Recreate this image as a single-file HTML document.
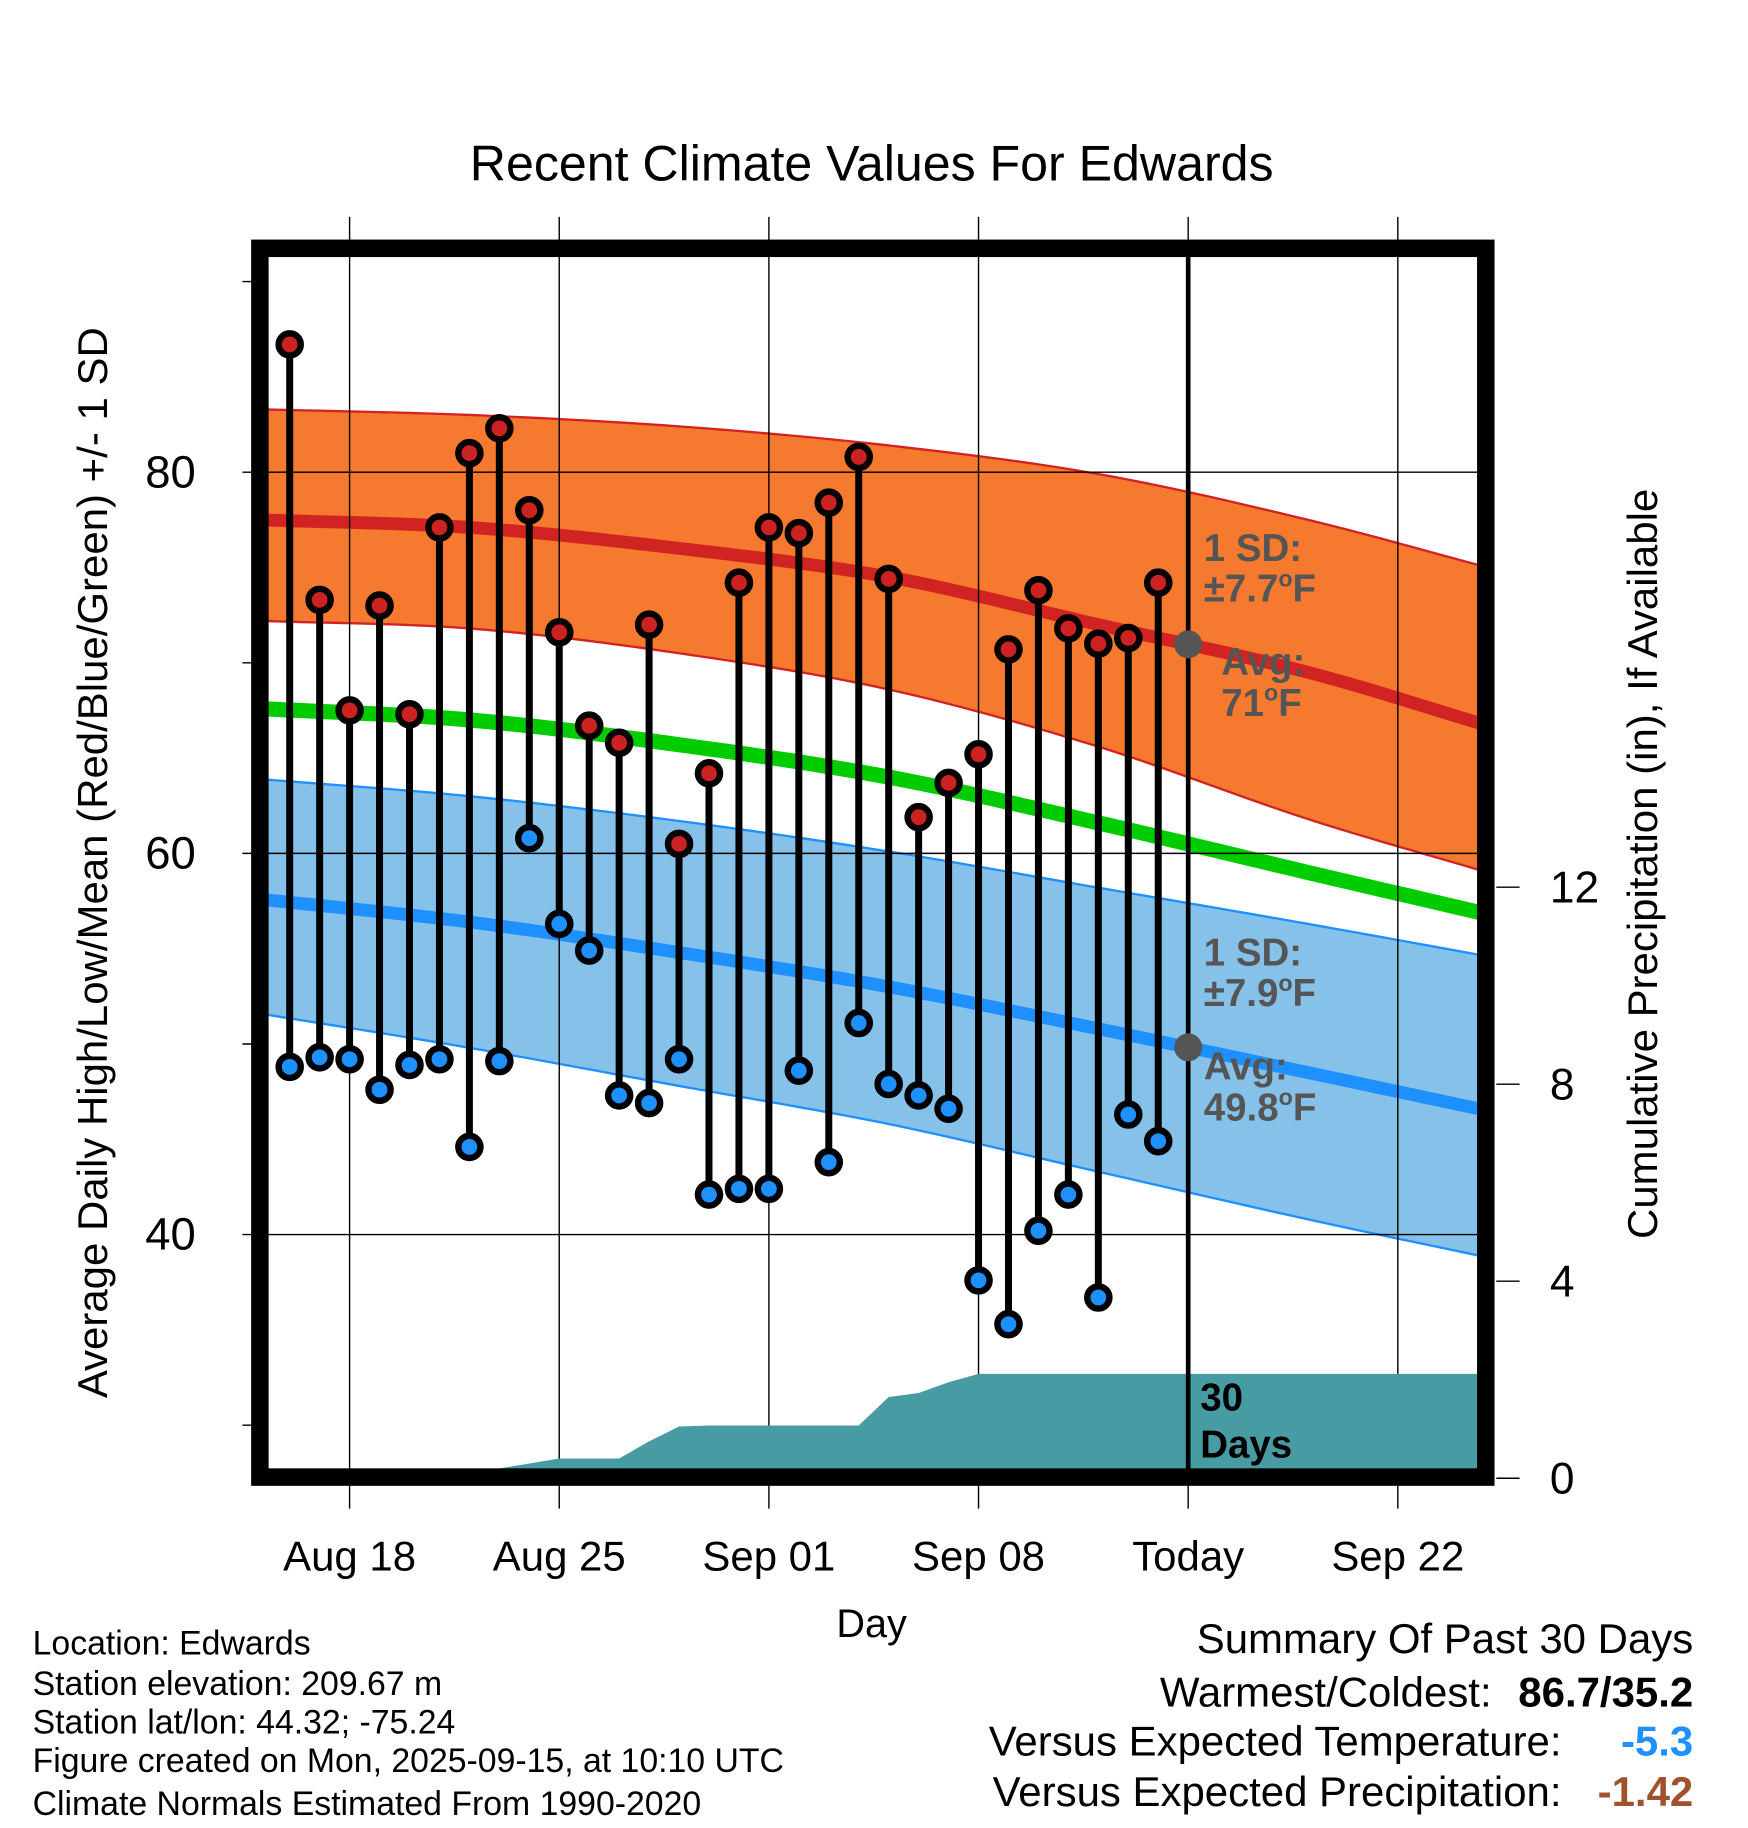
<!DOCTYPE html>
<html><head><meta charset="utf-8"><style>
html,body{margin:0;padding:0;background:#fff}
svg{display:block}
text{font-family:"Liberation Sans",Arial,sans-serif}
</style></head><body>
<svg id="chart" width="1748" height="1828" viewBox="0 0 1500 1568" preserveAspectRatio="none" xmlns="http://www.w3.org/2000/svg">
<g id="bands"></g>
<g id="grid"></g>
<g id="precip"></g>
<g id="obs"></g>
<g id="frame"></g>
<g id="labels"></g>
</svg>
<script>
// ---- data ----
const normDays = [-3, 4, 11, 18, 25, 32, 38]; // days relative to Aug 18
const normHighUpper = [83.3, 83.0, 82.4, 81.4, 79.9, 77.5, 75.0];
const normHighMean  = [77.5, 77.1, 76.0, 74.5, 72.0, 69.5, 66.7];
const normHighLower = [72.2, 71.8, 70.5, 68.6, 65.6, 61.8, 59.0];
const normMean      = [67.6, 67.0, 65.7, 64.0, 61.6, 59.0, 56.8];
const normLowUpper  = [63.9, 63.0, 61.7, 60.1, 58.2, 56.3, 54.6];
const normLowMean   = [57.6, 56.4, 54.8, 53.0, 50.8, 48.5, 46.5];
const normLowLower  = [51.6, 49.8, 47.8, 45.8, 43.3, 40.8, 38.8];
const obsHighs = [86.7,73.3,67.5,73.0,67.3,77.1,81.0,82.3,78.0,71.6,66.7,65.8,72.0,60.5,64.2,74.2,77.1,76.8,78.4,80.8,74.4,61.9,63.7,65.2,70.7,73.8,71.8,71.0,71.3,74.2];
const obsLows  = [48.8,49.3,49.2,47.6,48.9,49.2,44.6,49.1,60.8,56.3,54.9,47.3,46.9,49.2,42.1,42.4,42.4,48.6,43.8,51.1,47.9,47.3,46.6,37.6,35.3,40.2,42.1,36.7,46.3,44.9];
const obsStartDay = -2; // Aug 16
const precipDays = [-3,-2,-1,0,1,2,3,4,5,6,7,8,9,10,11,12,13,14,15,16,17,18,19,20,21,22,23,24,25,26,27,38];
const precipCum  = [0,0,0,0,0,0,0,0.05,0.2,0.3,0.4,0.4,0.4,0.75,1.05,1.07,1.07,1.07,1.07,1.07,1.07,1.65,1.73,1.95,2.12,2.12,2.12,2.12,2.12,2.12,2.12,2.12];
const xTickDays = [0,7,14,21,28,35];
const xTickLabels = ["Aug 18","Aug 25","Sep 01","Sep 08","Today","Sep 22"];
const yTicks = [40,60,80];
const yMinor = [30,50,70,90];
const pTicks = [0,4,8,12];

// ---- scales ----
const L=230,R=1268,T=220,B=1260;
const x = d => 300 + d*25.7;
const y = v => 405 + (80-v)*16.35;
const yp = p => 1268 - p*42.25;
const NS="http://www.w3.org/2000/svg";
function mk(tag, attrs, parent, txt){const e=document.createElementNS(NS,tag);for(const k in attrs)e.setAttribute(k,attrs[k]);if(txt!==undefined)e.textContent=txt;parent.appendChild(e);return e;}
const G=id=>document.getElementById(id);
function slope(arr,i){const n=arr.length;if(i===0)return (arr[1]-arr[0])/(normDays[1]-normDays[0]);if(i===n-1)return (arr[n-1]-arr[n-2])/(normDays[n-1]-normDays[n-2]);return (arr[i+1]-arr[i-1])/(normDays[i+1]-normDays[i-1]);}
function interp(arr, d){for(let i=0;i<normDays.length-1;i++){if(d<=normDays[i+1]||i===normDays.length-2){const h=normDays[i+1]-normDays[i];const t=(d-normDays[i])/h;const t2=t*t,t3=t2*t;
return (2*t3-3*t2+1)*arr[i]+(t3-2*t2+t)*h*slope(arr,i)+(-2*t3+3*t2)*arr[i+1]+(t3-t2)*h*slope(arr,i+1);}}return arr[arr.length-1];}
function smooth(arr){const o=[];for(let d=-3;d<=38.01;d+=0.5){o.push(x(d)+","+y(interp(arr,d)));}return o;}

// bands
const bands=G('bands');
let e;
e=mk('polygon',{points:smooth(normLowUpper).concat(smooth(normLowLower).reverse()).join(' '),fill:'#85c1e9',stroke:'#1e90ff','stroke-width':2},bands);

e=mk('polygon',{points:smooth(normHighUpper).concat(smooth(normHighLower).reverse()).join(' '),fill:'#f5792e',stroke:'#d22323','stroke-width':2},bands);

e=mk('polyline',{points:smooth(normHighMean).join(' '),fill:'none',stroke:'#d22323','stroke-width':11},bands);

e=mk('polyline',{points:smooth(normMean).join(' '),fill:'none',stroke:'#00cc00','stroke-width':13},bands);

e=mk('polyline',{points:smooth(normLowMean).join(' '),fill:'none',stroke:'#1e90ff','stroke-width':11},bands);


// grid
const grid=G('grid');
xTickDays.forEach((d,i)=>{e=mk('line',{x1:x(d),x2:x(d),y1:186,y2:1294,stroke:'#000','stroke-width':1.2},grid);

e=mk('text',{x:x(d),y:1347,'font-size':36,'text-anchor':'middle'},G('labels'),xTickLabels[i]);
});
yTicks.forEach(v=>{e=mk('line',{x1:208,x2:R,y1:y(v),y2:y(v),stroke:'#000','stroke-width':1.2},grid);

e=mk('text',{x:168,y:y(v)+13,'font-size':39,'text-anchor':'end'},G('labels'),String(v));
});
yMinor.forEach(v=>{e=mk('line',{x1:208,x2:222,y1:y(v),y2:y(v),stroke:'#000','stroke-width':1.2},grid);
});
pTicks.forEach(p=>{e=mk('line',{x1:1284,x2:1304,y1:yp(p),y2:yp(p),stroke:'#000','stroke-width':1.2},grid);

e=mk('text',{x:1330,y:yp(p)+13,'font-size':38,'text-anchor':'start'},G('labels'),String(p));
});

// precip
const pp=precipDays.map((d,i)=>Math.max(L,x(d))+","+yp(precipCum[i]));
pp.push(R+","+yp(precipCum[precipCum.length-1]));pp.push(R+","+B);pp.push(L+","+B);
e=mk('polygon',{points:pp.join(' '),fill:'#479ba3'},G('precip'));


// today line
e=mk('line',{x1:x(28),x2:x(28),y1:T,y2:B,stroke:'#000','stroke-width':4},G('precip'));


// observations
const obs=G('obs');
obsHighs.forEach((h,i)=>{const xx=x(obsStartDay+i);
e=mk('line',{x1:xx,x2:xx,y1:y(h),y2:y(obsLows[i]),stroke:'#000','stroke-width':6},obs);
});
obsHighs.forEach((h,i)=>{const xx=x(obsStartDay+i);
e=mk('circle',{cx:xx,cy:y(h),r:9.5,fill:'#cc2222',stroke:'#000','stroke-width':5.5},obs);

e=mk('circle',{cx:xx,cy:y(obsLows[i]),r:9.5,fill:'#1e90ff',stroke:'#000','stroke-width':5.5},obs);
});

// annotations
const lab=G('labels');
const todayX=x(28);
e=mk('circle',{cx:todayX,cy:y(interp(normHighMean,28)),r:12,fill:'#555'},lab);

e=mk('circle',{cx:todayX,cy:y(interp(normLowMean,28)),r:12,fill:'#555'},lab);


// frame
e=mk('rect',{x:223,y:213,width:1052,height:1054,fill:'none',stroke:'#000','stroke-width':15},G('frame'));

</script>
<svg style="position:absolute;left:0;top:0" width="1748" height="1828" viewBox="0 0 1500 1568" preserveAspectRatio="none" xmlns="http://www.w3.org/2000/svg">
<g font-family="Liberation Sans, Arial, sans-serif">
<text x="748" y="155" font-size="43" text-anchor="middle">Recent Climate Values For Edwards</text>
<text x="748" y="1404" font-size="34" text-anchor="middle">Day</text>
<text transform="translate(92,740) rotate(-90)" font-size="36" text-anchor="middle">Average Daily High/Low/Mean (Red/Blue/Green) +/- 1 SD</text>
<text transform="translate(1422,741) rotate(-90)" font-size="36" text-anchor="middle">Cumulative Precipitation (in), If Available</text>
<g font-weight="bold" font-size="33" fill="#555">
<text x="1033" y="481">1 SD:</text>
<text x="1033" y="516">±7.7<tspan font-size="20" dy="-13">o</tspan><tspan dy="13">F</tspan></text>
<text x="1048" y="579">Avg:</text>
<text x="1048" y="614">71<tspan font-size="20" dy="-13">o</tspan><tspan dy="13">F</tspan></text>
<text x="1033" y="828">1 SD:</text>
<text x="1033" y="863">±7.9<tspan font-size="20" dy="-13">o</tspan><tspan dy="13">F</tspan></text>
<text x="1033" y="926">Avg:</text>
<text x="1033" y="961">49.8<tspan font-size="20" dy="-13">o</tspan><tspan dy="13">F</tspan></text>
</g>
<g font-weight="bold" font-size="33" fill="#000">
<text x="1030" y="1210">30</text>
<text x="1030" y="1250">Days</text>
</g>
<g font-size="29" fill="#000">
<text x="28" y="1419">Location: Edwards</text>
<text x="28" y="1454">Station elevation: 209.67 m</text>
<text x="28" y="1487">Station lat/lon: 44.32; -75.24</text>
<text x="28" y="1520">Figure created on Mon, 2025-09-15, at 10:10 UTC</text>
<text x="28" y="1557">Climate Normals Estimated From 1990-2020</text>
</g>
<g font-size="36" fill="#000">
<text x="1453" y="1418" text-anchor="end">Summary Of Past 30 Days</text>
<text x="1280" y="1464" text-anchor="end">Warmest/Coldest:</text>
<text x="1453" y="1464" text-anchor="end" font-weight="bold">86.7/35.2</text>
<text x="1340" y="1506" text-anchor="end">Versus Expected Temperature:</text>
<text x="1453" y="1506" text-anchor="end" font-weight="bold" fill="#1e90ff">-5.3</text>
<text x="1340" y="1549" text-anchor="end">Versus Expected Precipitation:</text>
<text x="1453" y="1549" text-anchor="end" font-weight="bold" fill="#a0522d">-1.42</text>
</g>
</g>
</svg>
</body></html>
